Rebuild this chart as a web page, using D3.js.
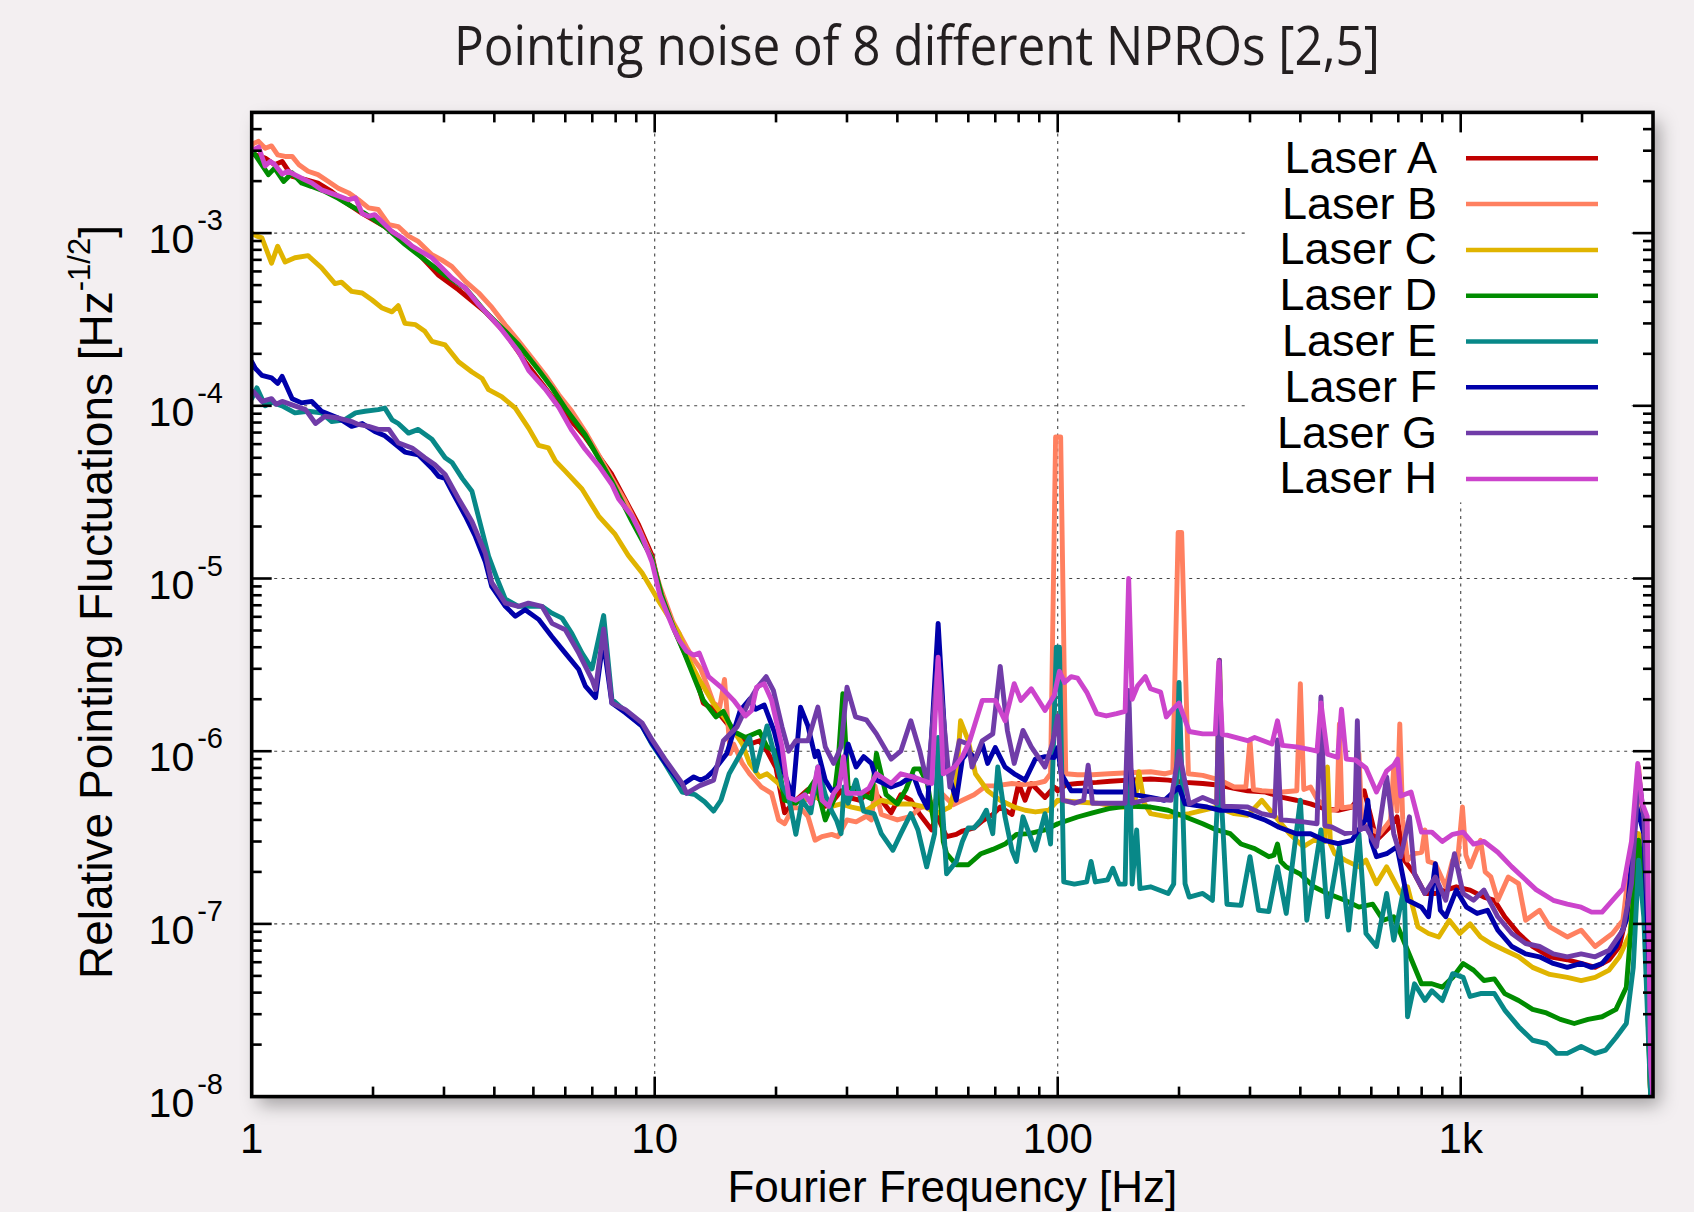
<!DOCTYPE html>
<html><head><meta charset="utf-8">
<script src="https://cdn.jsdelivr.net/npm/d3@7"></script>
<style>
html,body{margin:0;padding:0;background:#f3eff1;}
svg{display:block;}
</style></head><body>
<svg id="chart" width="1694" height="1212"></svg>
<script>
// ---------------- DATA: [frequency Hz, relative pointing fluctuation Hz^-1/2] ----------------
const laserA = [[1.0,2.9e-3],[1.02,2.84e-3],[1.08,2.72e-3],[1.14,2.49e-3],[1.19,2.6e-3],[1.26,2.13e-3],[1.36,2.04e-3],[1.46,1.95e-3],[1.58,1.74e-3],[1.7,1.52e-3],[1.88,1.3e-3],[2.14,1.09e-3],[2.45,8.75e-4],[2.91,5.7e-4],[3.26,4.7e-4],[3.8,3.5e-4],[4.26,2.64e-4],[4.77,1.8e-4],[5.56,1.13e-4],[6.23,8.1e-5],[6.72,6.6e-5],[7.83,4.0e-5],[9.12,2.05e-5],[9.84,1.37e-5],[10.3,8.5e-6],[11.1,5.3e-6],[12.0,3.5e-6],[12.7,2.6e-6],[13.2,1.9e-6],[14.0,1.75e-6],[14.6,1.6e-6],[15.7,1.3e-6],[17.2,1.1e-6],[18.2,1.15e-6],[19.0,1.0e-6],[20.0,8.0e-7],[20.7,5.2e-7],[21.0,4.4e-7],[22.4,5.2e-7],[24,6.0e-7],[25.4,5.4e-7],[26.5,4.8e-7],[27.8,5.2e-7],[29,5.9e-7],[30.2,5.4e-7],[32.3,5.2e-7],[34.5,6.0e-7],[36.5,5.2e-7],[38.6,4.4e-7],[40.8,5.6e-7],[43.2,5.2e-7],[45.5,4.3e-7],[48.7,3.5e-7],[50,4.3e-7],[53,3.2e-7],[56,3.3e-7],[58,3.45e-7],[62,3.6e-7],[65,3.95e-7],[69,4.3e-7],[72,4.75e-7],[77,4.3e-7],[80,6.5e-7],[83,5.2e-7],[86,6.5e-7],[93,5.4e-7],[98,6.2e-7],[100,5.9e-7],[105,6.4e-7],[112,6.5e-7],[125,6.6e-7],[135,6.7e-7],[150,6.8e-7],[170,6.9e-7],[188,6.8e-7],[207,6.6e-7],[229,6.5e-7],[253,6.35e-7],[274,6.1e-7],[296,5.9e-7],[328,5.8e-7],[361,5.4e-7],[391,5.2e-7],[424,4.95e-7],[459,4.65e-7],[496,4.55e-7],[537,4.75e-7],[576,5.9e-7],[598,4.2e-7],[618,3.05e-7],[668,3.65e-7],[695,4.17e-7],[724,2.34e-7],[768,1.95e-7],[815,1.5e-7],[865,1.5e-7],[918,1.57e-7],[975,1.64e-7],[1055,1.57e-7],[1142,1.43e-7],[1212,1.37e-7],[1286,1.1e-7],[1392,8.8e-8],[1508,7.4e-8],[1664,6.45e-8],[1838,6.2e-8],[1990,5.9e-8],[2155,5.6e-8],[2335,6.2e-8],[2476,7.4e-8],[2631,1.37e-7],[2736,3.33e-7],[2846,2.67e-7],[2960,1.0e-8],[3000,1.0e-8]];

const laserB = [[1.0,3.2e-3],[1.01,3.3e-3],[1.04,3.4e-3],[1.08,3.1e-3],[1.12,3.2e-3],[1.16,2.84e-3],[1.21,2.78e-3],[1.26,2.78e-3],[1.31,2.49e-3],[1.38,2.28e-3],[1.46,2.18e-3],[1.55,1.99e-3],[1.64,1.82e-3],[1.74,1.71e-3],[1.84,1.56e-3],[1.95,1.4e-3],[2.06,1.37e-3],[2.19,1.12e-3],[2.31,1.09e-3],[2.45,9.6e-4],[2.59,8.95e-4],[2.8,7.5e-4],[2.96,7.0e-4],[3.14,6.4e-4],[3.39,5.25e-4],[3.66,4.5e-4],[3.95,3.7e-4],[4.26,2.94e-4],[4.6,2.36e-4],[4.96,1.89e-4],[5.35,1.51e-4],[5.78,1.16e-4],[6.23,9.3e-5],[6.72,7.1e-5],[7.26,5.2e-5],[7.83,3.8e-5],[8.45,2.8e-5],[9.12,1.96e-5],[9.84,1.31e-5],[10.3,9.0e-6],[11.1,5.6e-6],[12.0,4.0e-6],[12.5,3.4e-6],[13.0,3.0e-6],[13.5,2.4e-6],[14.0,1.9e-6],[14.5,1.8e-6],[14.9,2.6e-6],[15.4,9.7e-7],[15.7,1.1e-6],[16.5,8.5e-7],[17.2,7.4e-7],[18.4,6.2e-7],[19.5,5.7e-7],[20.3,4.0e-7],[21,3.8e-7],[22,4.7e-7],[23,4.7e-7],[24,4.2e-7],[25,3.05e-7],[26,3.2e-7],[27.5,3.3e-7],[28.5,3.2e-7],[30,4.0e-7],[31.6,3.9e-7],[33.5,4.2e-7],[34.5,4.0e-7],[35.2,6.3e-7],[36.5,4.3e-7],[40,4.0e-7],[43.2,4.2e-7],[45.5,4.7e-7],[48.7,4.9e-7],[51.5,5.7e-7],[55,4.9e-7],[58,5.2e-7],[62,5.6e-7],[66.5,6.3e-7],[70,6.3e-7],[77,6.5e-7],[82,6.4e-7],[88,6.5e-7],[93,6.7e-7],[96,7.4e-7],[98.8,6.6e-5],[101.7,6.6e-5],[104.7,7.4e-7],[112,7.3e-7],[122,7.3e-7],[134,7.4e-7],[150,7.5e-7],[170,7.6e-7],[184,7.4e-7],[193,7.6e-7],[199,1.85e-5],[203,1.85e-5],[211,7.4e-7],[229,7.25e-7],[253,6.8e-7],[274,6.2e-7],[293,6.2e-7],[300,1.16e-6],[306,6.0e-7],[321,5.9e-7],[361,5.8e-7],[392,5.9e-7],[400,2.46e-6],[408,6.0e-7],[424,6.2e-7],[442,5.2e-7],[477,4.55e-7],[493,4.6e-7],[500,1.44e-6],[507,4.7e-7],[527,4.75e-7],[550,4.8e-7],[559,9.7e-7],[568,4.0e-7],[582,3.65e-7],[630,3.33e-7],[670,4.0e-7],[682,8.1e-7],[695,4.5e-7],[706,1.44e-6],[718,4.0e-7],[738,2.34e-7],[768,2.55e-7],[800,2.6e-7],[815,3.5e-7],[830,2.3e-7],[865,2.23e-7],[918,1.64e-7],[955,2.34e-7],[980,2.2e-7],[1010,4.75e-7],[1030,2.5e-7],[1055,2.14e-7],[1120,3.05e-7],[1150,2.0e-7],[1188,1.87e-7],[1236,1.37e-7],[1312,1.87e-7],[1392,1.71e-7],[1449,1.05e-7],[1569,1.2e-7],[1664,9.6e-8],[1838,8.4e-8],[1990,9.2e-8],[2155,7.4e-8],[2380,8.8e-8],[2526,1.05e-7],[2680,3.33e-7],[2764,8.1e-7],[2846,3.33e-7],[2960,1.0e-8],[3000,1.0e-8]];

const laserC = [[1.0,1.0e-3],[1.03,9.6e-4],[1.06,9.4e-4],[1.12,6.7e-4],[1.16,8.4e-4],[1.21,6.8e-4],[1.28,7.2e-4],[1.38,7.4e-4],[1.49,6.3e-4],[1.61,5.1e-4],[1.67,5.2e-4],[1.77,4.6e-4],[1.88,4.5e-4],[1.99,4.1e-4],[2.1,3.7e-4],[2.23,3.5e-4],[2.31,3.8e-4],[2.4,3.0e-4],[2.55,2.95e-4],[2.69,2.7e-4],[2.8,2.36e-4],[3.02,2.25e-4],[3.26,1.8e-4],[3.52,1.57e-4],[3.73,1.44e-4],[3.87,1.24e-4],[4.17,1.13e-4],[4.51,9.7e-5],[4.87,7.4e-5],[5.15,5.9e-5],[5.45,5.7e-5],[5.67,4.8e-5],[5.99,4.2e-5],[6.6,3.3e-5],[7.26,2.3e-5],[7.98,1.8e-5],[8.6,1.36e-5],[9.3,1.08e-5],[10.2,7.5e-6],[11.5,4.8e-6],[12.0,3.6e-6],[12.9,2.6e-6],[14.0,1.88e-6],[15.3,1.44e-6],[16.5,1.1e-6],[17.2,8.5e-7],[18.2,7.1e-7],[19,7.4e-7],[20.3,6.5e-7],[21.5,5.2e-7],[23.2,5.2e-7],[25.4,5.4e-7],[27.5,4.8e-7],[29,4.95e-7],[30.8,4.75e-7],[33.5,4.55e-7],[36.5,5.2e-7],[40,4.95e-7],[43.2,4.95e-7],[47,4.75e-7],[50,4.35e-7],[54,4.75e-7],[56,6.5e-7],[57.4,1.5e-6],[60,1.15e-6],[62.5,7.4e-7],[67,5.9e-7],[72,5.2e-7],[78,4.75e-7],[83,4.55e-7],[88,4.45e-7],[95,4.55e-7],[100,5.2e-7],[110,5.1e-7],[125,5.0e-7],[140,4.8e-7],[150,4.7e-7],[155,4.8e-7],[159,7.6e-7],[164,5.0e-7],[170,4.35e-7],[188,4.17e-7],[212,4.35e-7],[229,4.55e-7],[248,4.75e-7],[252,3.36e-6],[257,4.6e-7],[274,4.35e-7],[296,4.25e-7],[321,5.2e-7],[347,4.17e-7],[376,3.33e-7],[407,2.8e-7],[432,3.05e-7],[460,3.0e-7],[467,8.1e-7],[475,2.9e-7],[487,2.55e-7],[516,2.34e-7],[559,2.14e-7],[582,2.34e-7],[618,1.71e-7],[655,2.14e-7],[710,1.5e-7],[738,1.64e-7],[783,9.6e-8],[832,8.8e-8],[882,8.4e-8],[937,1.05e-7],[995,8.8e-8],[1055,1.0e-7],[1120,8.4e-8],[1188,7.7e-8],[1286,7.04e-8],[1392,6.45e-8],[1508,5.6e-8],[1664,5.1e-8],[1838,4.9e-8],[1990,4.7e-8],[2155,4.9e-8],[2335,5.4e-8],[2476,6.45e-8],[2631,8.8e-8],[2764,3.33e-7],[2846,2.14e-7],[2960,1.0e-8],[3000,1.0e-8]];

const laserD = [[1.0,3.05e-3],[1.02,2.84e-3],[1.1,2.18e-3],[1.14,2.38e-3],[1.2,1.99e-3],[1.26,2.23e-3],[1.33,1.95e-3],[1.41,1.86e-3],[1.52,1.74e-3],[1.64,1.59e-3],[1.77,1.43e-3],[1.91,1.3e-3],[2.14,1.09e-3],[2.4,8.6e-4],[2.69,7.0e-4],[3.02,5.7e-4],[3.39,4.8e-4],[3.8,3.5e-4],[4.26,2.7e-4],[4.6,2.25e-4],[5.15,1.61e-4],[5.56,1.27e-4],[6.0,9.7e-5],[6.72,6.8e-5],[7.83,3.65e-5],[8.78,2.14e-5],[9.84,1.31e-5],[10.4,8.0e-6],[11.2,5.0e-6],[11.9,3.6e-6],[12.5,2.7e-6],[13.2,1.97e-6],[14.2,1.58e-6],[14.8,1.7e-6],[15.7,1.3e-6],[16.8,1.2e-6],[18.2,1.3e-6],[19,1.06e-6],[20,1.0e-6],[21,5.2e-7],[22.4,5.0e-7],[24,5.9e-7],[25,6.8e-7],[26.5,4.0e-7],[27.8,5.2e-7],[28.5,8.5e-7],[29.3,2.15e-6],[30.2,6.2e-7],[32.3,5.7e-7],[34.5,5.3e-7],[35.5,9.7e-7],[37.5,5.6e-7],[40,4.95e-7],[42,6.0e-7],[44,7.9e-7],[45.5,7.9e-7],[47.5,6.5e-7],[49.5,3.6e-7],[50.5,8.5e-7],[52,3.0e-7],[53,2.55e-7],[56,2.2e-7],[60,2.2e-7],[64.5,2.55e-7],[69,2.7e-7],[74,2.9e-7],[79,3.3e-7],[85,3.33e-7],[93,3.5e-7],[100,3.8e-7],[112,4.16e-7],[122,4.4e-7],[134,4.65e-7],[147,4.8e-7],[150,1.2e-6],[153,4.8e-7],[170,4.75e-7],[188,4.55e-7],[207,4.17e-7],[229,3.8e-7],[248,3.5e-7],[268,3.33e-7],[285,2.9e-7],[308,2.73e-7],[334,2.45e-7],[344,2.5e-7],[351,2.9e-7],[358,2.3e-7],[369,2.14e-7],[399,1.95e-7],[432,1.64e-7],[467,1.5e-7],[516,1.37e-7],[559,1.25e-7],[605,1.3e-7],[642,1.05e-7],[682,1.1e-7],[738,7.04e-8],[799,4.5e-8],[848,4.5e-8],[900,4.3e-8],[955,4.9e-8],[1014,5.9e-8],[1076,5.4e-8],[1142,4.7e-8],[1212,4.8e-8],[1286,3.95e-8],[1392,3.6e-8],[1508,3.2e-8],[1632,3.05e-8],[1767,2.8e-8],[1913,2.65e-8],[2070,2.8e-8],[2243,2.9e-8],[2428,3.2e-8],[2576,4.3e-8],[2680,1.37e-7],[2764,3.05e-7],[2846,1.71e-7],[2960,1.0e-8],[3000,1.0e-8]];

const laserE = [[1.0,1.1e-4],[1.03,1.27e-4],[1.08,1.0e-4],[1.12,1.05e-4],[1.19,1.0e-4],[1.28,9.1e-5],[1.38,9.3e-5],[1.49,9.1e-5],[1.58,8.1e-5],[1.7,8.3e-5],[1.81,9.1e-5],[1.91,9.3e-5],[2.06,9.5e-5],[2.14,9.7e-5],[2.23,8.3e-5],[2.31,7.9e-5],[2.45,6.95e-5],[2.59,7.3e-5],[2.8,6.4e-5],[3.02,5.0e-5],[3.14,4.7e-5],[3.33,3.8e-5],[3.52,3.2e-5],[3.66,2.24e-5],[3.87,1.35e-5],[4.06,1.0e-5],[4.26,7.6e-6],[4.59,6.9e-6],[5.25,6.9e-6],[5.56,6.3e-6],[5.89,5.9e-6],[6.23,4.8e-6],[6.6,3.7e-6],[6.99,3.0e-6],[7.47,6.1e-6],[7.83,2.0e-6],[8.46,1.7e-6],[9.3,1.4e-6],[9.84,1.1e-6],[10.6,8.5e-7],[11.7,5.8e-7],[12.6,5.6e-7],[13.3,5.1e-7],[14.0,4.5e-7],[14.6,5.2e-7],[15.3,7.4e-7],[16.0,8.9e-7],[17.2,1.2e-6],[17.8,7.7e-7],[18.4,1.04e-6],[19.0,1.4e-6],[19.8,9.6e-7],[20.7,6.3e-7],[21.5,5.4e-7],[22.4,3.3e-7],[23.2,5.2e-7],[24.4,4.4e-7],[25.4,8.1e-7],[26.5,5.6e-7],[27.5,4.5e-7],[28.3,3.95e-7],[29,3.33e-7],[29.5,6.2e-7],[30.2,5.0e-7],[31.6,6.8e-7],[33,4.5e-7],[35,4.35e-7],[36.5,3.33e-7],[39,2.67e-7],[40.8,3.33e-7],[43.2,4.35e-7],[45,3.5e-7],[47.3,2.14e-7],[49.5,3.33e-7],[50.5,1.2e-6],[53,1.95e-7],[56,2.3e-7],[58,3.0e-7],[60,3.6e-7],[62,3.6e-7],[64.5,4.0e-7],[66.5,4.55e-7],[69,3.33e-7],[71,8.1e-7],[74,4.17e-7],[77,2.67e-7],[79,2.3e-7],[82,4.17e-7],[88,2.67e-7],[93,4.35e-7],[96,2.9e-7],[99.2,4.0e-6],[101,4.0e-6],[103.5,1.75e-7],[110,1.7e-7],[118,1.75e-7],[121,2.3e-7],[124,1.75e-7],[133,1.8e-7],[137,2.1e-7],[142,1.7e-7],[147,1.7e-7],[150,1.8e-6],[153,1.7e-7],[157,3.5e-7],[160,1.6e-7],[170,1.64e-7],[188,1.5e-7],[194,1.7e-7],[200,2.5e-6],[207,1.71e-7],[212,1.43e-7],[229,1.5e-7],[242,1.37e-7],[252,8.5e-7],[263,1.3e-7],[285,1.28e-7],[300,2.45e-7],[315,1.2e-7],[334,1.18e-7],[351,2.14e-7],[369,1.15e-7],[400,5.2e-7],[415,1.05e-7],[450,3.5e-7],[467,1.1e-7],[500,2.8e-7],[527,9.2e-8],[559,3.33e-7],[582,8.8e-8],[618,7.4e-8],[655,1.5e-7],[682,8.05e-8],[724,1.64e-7],[738,2.9e-8],[768,4.5e-8],[815,3.6e-8],[848,4.1e-8],[900,3.6e-8],[955,5.15e-8],[1014,4.9e-8],[1055,3.8e-8],[1120,3.95e-8],[1212,3.95e-8],[1286,3.17e-8],[1392,2.54e-8],[1508,2.12e-8],[1632,2.03e-8],[1732,1.78e-8],[1838,1.78e-8],[1990,1.95e-8],[2155,1.78e-8],[2290,1.86e-8],[2428,2.2e-8],[2576,2.65e-8],[2680,5.6e-8],[2764,2.34e-7],[2846,1.1e-7],[2960,1.0e-8],[3000,1.0e-8]];

const laserF = [[1.0,1.8e-4],[1.02,1.65e-4],[1.06,1.5e-4],[1.12,1.45e-4],[1.16,1.35e-4],[1.19,1.48e-4],[1.26,1.1e-4],[1.33,1.04e-4],[1.41,1.06e-4],[1.49,9.3e-5],[1.64,8.5e-5],[1.77,7.6e-5],[1.88,7.9e-5],[2.02,7.1e-5],[2.14,6.7e-5],[2.23,6.2e-5],[2.4,5.4e-5],[2.59,5.2e-5],[2.8,4.35e-5],[2.91,3.9e-5],[3.02,3.8e-5],[3.14,3.2e-5],[3.39,2.3e-5],[3.59,1.75e-5],[3.8,1.25e-5],[3.94,9.0e-6],[4.26,6.9e-6],[4.51,6.05e-6],[4.77,6.6e-6],[5.15,5.8e-6],[5.56,4.6e-6],[6.0,3.7e-6],[6.48,2.97e-6],[6.73,2.38e-6],[7.13,2.04e-6],[7.45,4.4e-6],[7.83,1.9e-6],[8.46,1.67e-6],[9.3,1.4e-6],[9.83,1.12e-6],[10.6,8.6e-7],[11.7,6.4e-7],[12.5,7.1e-7],[13.0,6.8e-7],[13.5,7.1e-7],[14.0,7.7e-7],[15.1,9.7e-7],[16.3,1.72e-6],[17.2,2.0e-6],[17.8,1.75e-6],[18.7,1.85e-6],[19.8,1.3e-6],[21,7.4e-7],[22,5.4e-7],[23,1.8e-6],[24,1.4e-6],[25,9.3e-7],[25.4,1.0e-6],[26.5,6.8e-7],[27.5,5.9e-7],[28.5,6.1e-7],[29.3,8.1e-7],[30.2,1.1e-6],[31.6,8.1e-7],[33,9.3e-7],[34.5,8.5e-7],[35.5,6.8e-7],[38.6,6.2e-7],[40.8,6.5e-7],[42,6.8e-7],[44,7.1e-7],[45.5,5.7e-7],[47.5,4.7e-7],[50.5,5.5e-6],[53,8.1e-7],[56,5.2e-7],[58,9.0e-7],[60,1.0e-6],[62.5,9.0e-7],[65,1.1e-6],[67,8.5e-7],[70,1.05e-6],[74,8.1e-7],[78,7.4e-7],[83,6.8e-7],[88,9.0e-7],[93,9.3e-7],[98,9.2e-7],[100,1.05e-6],[102,7.4e-7],[108,5.9e-7],[115,5.9e-7],[125,5.8e-7],[140,5.8e-7],[147,5.8e-7],[150,9.5e-7],[155,5.6e-7],[170,5.4e-7],[184,5.2e-7],[200,6.2e-7],[207,4.95e-7],[235,4.75e-7],[253,4.55e-7],[274,4.55e-7],[296,4.35e-7],[328,3.98e-7],[354,3.63e-7],[391,3.33e-7],[424,3.33e-7],[459,3.05e-7],[496,2.92e-7],[537,3.05e-7],[580,4.0e-7],[588,5.2e-7],[600,3.0e-7],[618,2.45e-7],[655,2.55e-7],[695,2.8e-7],[738,1.37e-7],[799,1.25e-7],[832,1.1e-7],[865,2.23e-7],[890,1.2e-7],[918,1.1e-7],[975,1.57e-7],[1034,1.25e-7],[1098,1.15e-7],[1165,1.2e-7],[1236,9.2e-8],[1339,7.4e-8],[1449,6.7e-8],[1569,6.45e-8],[1697,5.9e-8],[1838,5.6e-8],[1990,5.9e-8],[2112,5.6e-8],[2243,5.9e-8],[2428,7.4e-8],[2576,1.05e-7],[2736,4.75e-7],[2846,3.33e-7],[2990,2.0e-8],[3000,1.0e-8]];

const laserG = [[1.0,1.2e-4],[1.01,1.21e-4],[1.06,1.06e-4],[1.12,1.1e-4],[1.15,1.02e-4],[1.19,1.06e-4],[1.28,1.0e-4],[1.36,9.5e-5],[1.44,7.9e-5],[1.52,8.7e-5],[1.64,8.5e-5],[1.77,8.1e-5],[1.84,7.8e-5],[1.95,7.6e-5],[2.06,7.3e-5],[2.19,7.3e-5],[2.31,6.1e-5],[2.5,5.7e-5],[2.69,5.0e-5],[2.85,4.55e-5],[3.02,4.0e-5],[3.26,2.9e-5],[3.52,2.14e-5],[3.8,1.4e-5],[3.94,9.5e-6],[4.26,7.2e-6],[4.59,6.9e-6],[4.86,7.2e-6],[5.25,6.9e-6],[5.56,5.5e-6],[6.0,5.05e-6],[6.48,3.7e-6],[6.99,2.6e-6],[7.13,2.28e-6],[7.47,5.1e-6],[7.83,1.9e-6],[8.46,1.74e-6],[9.3,1.46e-6],[9.84,1.17e-6],[10.6,9.0e-7],[11.7,6.5e-7],[12.0,5.7e-7],[12.9,6.3e-7],[14.0,6.8e-7],[14.8,1.15e-6],[16.0,1.38e-6],[17.2,1.97e-6],[18.0,2.35e-6],[18.9,2.7e-6],[19.7,2.25e-6],[20.7,1.38e-6],[21.5,1.0e-6],[22.4,1.15e-6],[24,1.15e-6],[25.4,1.8e-6],[26.5,1.06e-6],[27.8,8.5e-7],[29,1.06e-6],[30,2.35e-6],[31.5,1.58e-6],[33.5,1.52e-6],[35.5,1.26e-6],[38.6,9.0e-7],[40.8,1.0e-6],[43.2,1.5e-6],[45.5,1.0e-6],[47.5,6.5e-7],[50.5,3.4e-6],[54,6.2e-7],[57,1.15e-6],[60,1.1e-6],[61.3,8.1e-7],[65,1.15e-6],[69,1.26e-6],[72,3.1e-6],[75,1.32e-6],[78,8.5e-7],[82,1.32e-6],[86,1.06e-6],[93,8.1e-7],[97,1.1e-6],[100,1.6e-6],[103,5.2e-7],[110,5.0e-7],[116,5.2e-7],[119,8.3e-7],[122,5.0e-7],[140,5.0e-7],[147,5.0e-7],[150,2.25e-6],[153,5.0e-7],[170,5.3e-7],[191,5.2e-7],[200,1.0e-6],[212,4.95e-7],[229,5.4e-7],[248,5.0e-7],[252,3.36e-6],[257,4.8e-7],[296,4.75e-7],[321,4.35e-7],[345,4.2e-7],[351,1.16e-6],[358,4.0e-7],[369,3.98e-7],[407,3.9e-7],[440,3.8e-7],[450,2.06e-6],[460,3.7e-7],[477,3.65e-7],[516,3.33e-7],[545,3.4e-7],[554,1.5e-6],[563,3.5e-7],[582,3.65e-7],[618,2.8e-7],[655,7.1e-7],[682,3.33e-7],[710,2.45e-7],[746,4.17e-7],[768,1.95e-7],[815,1.5e-7],[865,1.87e-7],[918,1.37e-7],[965,2.55e-7],[1014,1.5e-7],[1076,1.37e-7],[1142,1.57e-7],[1236,1.1e-7],[1339,8.8e-8],[1449,7.7e-8],[1569,7.4e-8],[1697,6.7e-8],[1838,6.45e-8],[1990,6.7e-8],[2155,6.45e-8],[2335,7.04e-8],[2526,9.2e-8],[2653,1.71e-7],[2764,7.4e-7],[2846,4.17e-7],[2960,5.6e-8],[3000,1.0e-8]];

const laserH = [[1.0,3.0e-3],[1.04,3.15e-3],[1.08,2.45e-3],[1.11,2.6e-3],[1.14,2.5e-3],[1.19,2.2e-3],[1.23,2.28e-3],[1.33,2.08e-3],[1.41,1.95e-3],[1.49,1.78e-3],[1.61,1.67e-3],[1.74,1.56e-3],[1.81,1.6e-3],[1.88,1.3e-3],[1.95,1.25e-3],[2.02,1.28e-3],[2.23,1.02e-3],[2.36,9.4e-4],[2.5,8.4e-4],[2.8,7.2e-4],[3.14,5.5e-4],[3.39,4.8e-4],[3.66,3.85e-4],[4.1,2.9e-4],[4.6,2.05e-4],[4.87,1.6e-4],[5.35,1.25e-4],[5.78,9.8e-5],[6.23,7.2e-5],[6.72,5.6e-5],[7.26,4.5e-5],[7.83,3.5e-5],[8.13,2.9e-5],[8.78,2.3e-5],[9.3,1.75e-5],[9.84,1.25e-5],[10.3,8.0e-6],[10.7,6.4e-6],[11.1,5.2e-6],[11.5,4.4e-6],[12.0,3.8e-6],[12.5,3.6e-6],[12.9,3.7e-6],[13.6,2.7e-6],[14.6,2.35e-6],[15.7,1.97e-6],[16.8,1.6e-6],[17.4,1.72e-6],[17.9,2.35e-6],[18.7,2.46e-6],[19.5,1.97e-6],[20.7,1.06e-6],[21.5,5.4e-7],[22.4,5.2e-7],[23.6,5.6e-7],[24.4,5.0e-7],[25.4,8.1e-7],[26.0,5.2e-7],[27.0,4.8e-7],[27.8,5.7e-7],[28.7,6.3e-7],[29.4,9.3e-7],[30.0,5.7e-7],[32.5,5.7e-7],[34,6.1e-7],[35.5,7.4e-7],[38.6,6.5e-7],[40.8,7.4e-7],[43.7,7.1e-7],[46,6.8e-7],[48.7,6.5e-7],[50.5,3.5e-6],[52,7.4e-7],[55.5,8.1e-7],[58,9.3e-7],[60.5,1.15e-6],[65,1.97e-6],[70,1.97e-6],[74,1.5e-6],[78,2.46e-6],[81,1.97e-6],[86,2.3e-6],[93,1.72e-6],[98,2.1e-6],[101,2.9e-6],[104,2.5e-6],[108,2.7e-6],[112,2.65e-6],[118,2.2e-6],[125,1.65e-6],[132,1.6e-6],[140,1.65e-6],[147,1.7e-6],[150,1.0e-5],[153,2.0e-6],[158,2.4e-6],[165,2.7e-6],[170,2.3e-6],[180,2.2e-6],[186,1.58e-6],[191,1.7e-6],[200,1.9e-6],[212,1.3e-6],[229,1.26e-6],[246,1.26e-6],[251,3.3e-6],[256,1.25e-6],[263,1.24e-6],[296,1.15e-6],[308,1.2e-6],[340,1.1e-6],[351,1.5e-6],[361,1.08e-6],[391,1.06e-6],[424,1.02e-6],[440,1.0e-6],[450,1.9e-6],[467,9.6e-7],[495,9.2e-7],[506,1.75e-6],[520,9.0e-7],[548,8.9e-7],[582,8.0e-7],[618,5.8e-7],[655,7.7e-7],[682,8.3e-7],[697,9.0e-7],[710,5.5e-7],[753,5.8e-7],[799,3.4e-7],[848,3.4e-7],[900,3.0e-7],[955,3.3e-7],[1014,3.4e-7],[1076,2.9e-7],[1142,3.0e-7],[1236,2.6e-7],[1339,2.14e-7],[1449,1.8e-7],[1538,1.58e-7],[1697,1.37e-7],[1838,1.3e-7],[1990,1.25e-7],[2112,1.17e-7],[2243,1.17e-7],[2380,1.37e-7],[2526,1.6e-7],[2653,3.0e-7],[2750,8.5e-7],[2819,5.0e-7],[2902,4.2e-7],[2960,1.5e-8],[3000,1.0e-8]];

const seriesNames  = ["Laser A","Laser B","Laser C","Laser D","Laser E","Laser F","Laser G","Laser H"];
const seriesColors = ["#c00000","#ff8060","#e0b400","#008c00","#088888","#0000aa","#703ca8","#cc44cc"];
const seriesData   = [laserA, laserB, laserC, laserD, laserE, laserF, laserG, laserH];

const xTickValues = [1, 10, 100, 1000];
const xTickLabels = ["1", "10", "100", "1k"];
const yTickValues = [1e-8, 1e-7, 1e-6, 1e-5, 1e-4, 1e-3];
const yTickExps   = ["-8", "-7", "-6", "-5", "-4", "-3"];

const titleText = "Pointing noise of 8 different NPROs [2,5]";
const xLabel = "Fourier Frequency [Hz]";

// ---------------- LAYOUT ----------------
const svg = d3.select("#chart");
const P = {left: 251.7, right: 1653, top: 112.4, bottom: 1096.6};
const x = d3.scaleLog().domain([1, 3000]).range([P.left, P.right]);
const y = d3.scaleLog().domain([1e-8, 5e-3]).range([P.bottom, P.top]);
const FONT = "'Liberation Sans', Arial, Helvetica, sans-serif";

const defs = svg.append("defs");
const f = defs.append("filter").attr("id","shadow").attr("x","-5%").attr("y","-5%").attr("width","115%").attr("height","115%");
f.append("feDropShadow").attr("dx",7).attr("dy",9).attr("stdDeviation",9)
  .attr("flood-color","#000").attr("flood-opacity",0.32);
defs.append("clipPath").attr("id","clip").append("rect")
  .attr("x",P.left).attr("y",P.top).attr("width",P.right-P.left).attr("height",P.bottom-P.top);

// plot background with shadow
svg.append("rect").attr("x",P.left).attr("y",P.top).attr("width",P.right-P.left).attr("height",P.bottom-P.top)
  .attr("fill","#fff").attr("filter","url(#shadow)");

// title
svg.append("text").attr("x",917).attr("y",65).attr("text-anchor","middle")
  .attr("font-family","'Open Sans', 'Noto Sans', sans-serif").attr("font-size",54)
  .attr("fill","#231f20").attr("textLength",926).attr("lengthAdjust","spacingAndGlyphs")
  .text(titleText);

// grid
const grid = svg.append("g").attr("stroke","#444").attr("stroke-width",1.1).attr("stroke-dasharray","3,4.5");
xTickValues.filter(v => v > 1).forEach(v => {
  grid.append("line").attr("x1",x(v)).attr("x2",x(v)).attr("y1",P.bottom).attr("y2",P.top);
});
yTickValues.filter(v => v > 1e-8).forEach(v => {
  grid.append("line").attr("x1",P.left).attr("x2",P.right).attr("y1",y(v)).attr("y2",y(v));
});

// legend box (hides grid)
svg.append("rect").attr("x",1245).attr("y",P.top+1).attr("width",383).attr("height",389).attr("fill","#fff");

// data lines
const line = d3.line().x(d => x(d[0])).y(d => y(d[1]));
const lines = svg.append("g").attr("clip-path","url(#clip)");
seriesData.forEach((data, i) => {
  lines.append("path").datum(data).attr("d", line)
    .attr("fill","none").attr("stroke",seriesColors[i]).attr("stroke-width",4.9)
    .attr("stroke-linejoin","round").attr("stroke-linecap","round");
});

// ticks
const ticks = svg.append("g").attr("stroke","#000").attr("stroke-width",2.6);
const majorLen = 20, minorLen = 10;
const xMinor = [];
for (let k = 0; k <= 3; k++) for (let m = 2; m <= 9; m++) { const v = m * Math.pow(10,k); if (v < 3000) xMinor.push(v); }
const yMinor = [];
for (let k = -8; k <= -3; k++) for (let m = 2; m <= 9; m++) { const v = m * Math.pow(10,k); if (v < 5e-3) yMinor.push(v); }
xTickValues.forEach(v => {
  ticks.append("line").attr("x1",x(v)).attr("x2",x(v)).attr("y1",P.bottom).attr("y2",P.bottom-majorLen);
  ticks.append("line").attr("x1",x(v)).attr("x2",x(v)).attr("y1",P.top).attr("y2",P.top+majorLen);
});
xMinor.forEach(v => {
  ticks.append("line").attr("x1",x(v)).attr("x2",x(v)).attr("y1",P.bottom).attr("y2",P.bottom-minorLen);
  ticks.append("line").attr("x1",x(v)).attr("x2",x(v)).attr("y1",P.top).attr("y2",P.top+minorLen);
});
yTickValues.forEach(v => {
  ticks.append("line").attr("x1",P.left).attr("x2",P.left+majorLen).attr("y1",y(v)).attr("y2",y(v));
  ticks.append("line").attr("x1",P.right).attr("x2",P.right-majorLen).attr("y1",y(v)).attr("y2",y(v));
});
yMinor.forEach(v => {
  ticks.append("line").attr("x1",P.left).attr("x2",P.left+minorLen).attr("y1",y(v)).attr("y2",y(v));
  ticks.append("line").attr("x1",P.right).attr("x2",P.right-minorLen).attr("y1",y(v)).attr("y2",y(v));
});

// frame
svg.append("rect").attr("x",P.left).attr("y",P.top).attr("width",P.right-P.left).attr("height",P.bottom-P.top)
  .attr("fill","none").attr("stroke","#000").attr("stroke-width",3.6);

// x tick labels
xTickValues.forEach((v, i) => {
  svg.append("text").attr("x",x(v)).attr("y",1153).attr("text-anchor","middle")
    .attr("font-family",FONT).attr("font-size",42).attr("fill","#000").text(xTickLabels[i]);
});
// y tick labels
yTickValues.forEach((v, i) => {
  const t = svg.append("text").attr("x",223).attr("y",y(v)+20).attr("text-anchor","end")
    .attr("font-family",FONT).attr("font-size",41).attr("fill","#000");
  t.append("tspan").text("10");
  t.append("tspan").attr("dx",3).attr("dy",-23).attr("font-size",29).text(yTickExps[i]);
});

// axis labels
svg.append("text").attr("x",(P.left+P.right)/2).attr("y",1202).attr("text-anchor","middle")
  .attr("font-family",FONT).attr("font-size",44).attr("fill","#000").text(xLabel);
const yl = svg.append("text").attr("transform","translate(112,602) rotate(-90)").attr("text-anchor","middle")
  .attr("font-family",FONT).attr("font-size",46).attr("fill","#000");
yl.append("tspan").text("Relative Pointing Fluctuations [Hz");
yl.append("tspan").attr("dy",-22).attr("font-size",31).text("-1/2");
yl.append("tspan").attr("dy",22).text("]");

// legend
const legY0 = 158.3, legDy = 45.8;
seriesNames.forEach((name, i) => {
  const yy = legY0 + i * legDy;
  const t = svg.append("text").attr("x",1437).attr("y",yy+14.5).attr("text-anchor","end")
    .attr("font-family",FONT).attr("font-size",41).attr("fill","#000").text(name);
  const w = t.node().getComputedTextLength();
  t.attr("textLength", w * 45 / 41).attr("lengthAdjust","spacingAndGlyphs")
   .attr("transform", `translate(1437,${yy+14.5}) scale(1,1.08) translate(-1437,${-(yy+14.5)})`);
  svg.append("line").attr("x1",1466).attr("x2",1598).attr("y1",yy).attr("y2",yy)
    .attr("stroke",seriesColors[i]).attr("stroke-width",4.5);
});
</script>
</body></html>
